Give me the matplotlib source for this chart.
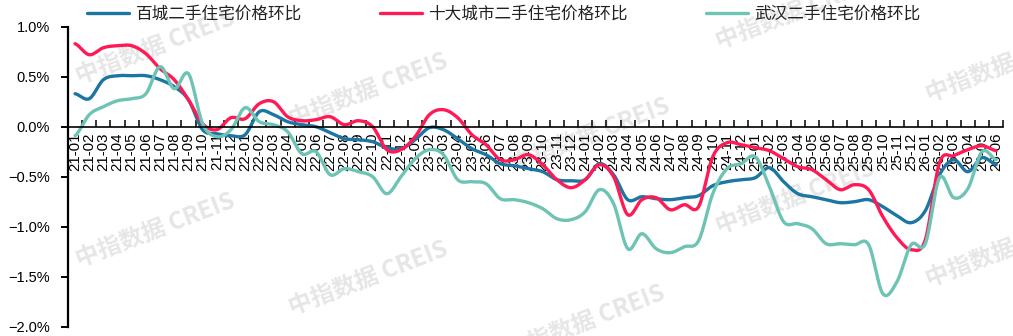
import numpy as np
import matplotlib.pyplot as plt
from matplotlib.ticker import FixedLocator, FuncFormatter

plt.rcParams['font.family'] = ['Noto Sans CJK SC', 'DejaVu Sans']

months = [f'{y}-{m:02d}' for y in range(21, 26) for m in range(1, 13)] + \
         [f'26-{m:02d}' for m in range(1, 7)]

# 百城二手住宅价格环比 (%)
bai_cheng = [0.33, 0.28, 0.47, 0.51, 0.51, 0.51, 0.47, 0.40, 0.27, -0.03, -0.07, -0.09,
             -0.08, 0.15, 0.12, 0.05, 0.02, 0.00, -0.06, -0.12, -0.13, -0.15, -0.21, -0.22,
             -0.13, -0.01, -0.03, -0.12, -0.22, -0.28, -0.37, -0.39, -0.42, -0.45, -0.53, -0.54,
             -0.53, -0.37, -0.48, -0.73, -0.70, -0.72, -0.73, -0.71, -0.69, -0.59, -0.55, -0.53,
             -0.51, -0.41, -0.55, -0.67, -0.70, -0.73, -0.76, -0.75, -0.73, -0.80, -0.89, -0.96,
             -0.84, -0.48, -0.33, -0.45, -0.31, -0.38]
# 十大城市二手住宅价格环比 (%)
shi_da = [0.83, 0.72, 0.79, 0.81, 0.81, 0.73, 0.58, 0.47, 0.27, 0.03, -0.03, 0.09,
          0.08, 0.23, 0.25, 0.10, 0.06, 0.07, 0.10, 0.02, 0.06, 0.00, -0.23, -0.23,
          -0.10, 0.12, 0.17, 0.09, -0.08, -0.18, -0.33, -0.33, -0.28, -0.38, -0.53, -0.61,
          -0.53, -0.38, -0.50, -0.88, -0.73, -0.71, -0.83, -0.78, -0.80, -0.30, -0.16, -0.18,
          -0.21, -0.24, -0.32, -0.40, -0.43, -0.53, -0.63, -0.58, -0.63, -0.90, -1.11, -1.23,
          -1.13, -0.36, -0.29, -0.23, -0.19, -0.24]
# 武汉二手住宅价格环比 (%)
wuhan = [-0.09, 0.12, 0.20, 0.26, 0.28, 0.33, 0.60, 0.38, 0.53, 0.03, -0.10, -0.03,
         0.19, 0.05, 0.02, -0.05, -0.27, -0.25, -0.48, -0.42, -0.45, -0.50, -0.67, -0.50,
         -0.32, -0.23, -0.28, -0.53, -0.55, -0.57, -0.72, -0.73, -0.76, -0.82, -0.92, -0.93,
         -0.85, -0.63, -0.77, -1.22, -1.07, -1.22, -1.26, -1.20, -1.14, -0.67, -0.42, -0.37,
         -0.30, -0.60, -0.95, -0.97, -1.02, -1.17, -1.17, -1.18, -1.18, -1.67, -1.55, -1.18,
         -1.17, -0.51, -0.71, -0.62, -0.25, -0.33]

labels = ['百城二手住宅价格环比', '十大城市二手住宅价格环比', '武汉二手住宅价格环比']
colors = ['#1b76a3', '#ff1a55', '#6ec4b4']


def smooth(vals, n=16):
    # bezier smoothing between points, like Excel's smoothed line
    v = np.asarray(vals, dtype=float)
    xs, ys = [], []
    t = np.linspace(0, 1, n)
    for i in range(len(v) - 1):
        p0 = v[i - 1] if i > 0 else v[i]
        p3 = v[i + 2] if i + 2 < len(v) else v[i + 1]
        c1 = v[i] + (v[i + 1] - p0) / 6
        c2 = v[i + 1] - (p3 - v[i]) / 6
        yy = (1 - t) ** 3 * v[i] + 3 * (1 - t) ** 2 * t * c1 + 3 * (1 - t) * t ** 2 * c2 + t ** 3 * v[i + 1]
        xs.extend(i + t)
        ys.extend(yy)
    return np.array(xs), np.array(ys)


fig = plt.figure(figsize=(10.13, 3.36), dpi=100)
ax = fig.add_axes([0.0671, 0.0277, 0.9233, 0.8928])
ax.patch.set_visible(False)

# watermarks (cut by the edges, as in the original)
marks = [(155, 47), (155, 230), (368, 90), (368, 278), (590, 135), (585, 322),
         (795, 12), (795, 197), (1005, 65), (1005, 250)]
for mx, my in marks:
    fig.text(mx / 1013, 1 - my / 336, '中指数据 CREIS', rotation=21, ha='center', va='center',
             fontsize=17, fontweight='bold', color='#e6e6e6', zorder=-5)

for vals, lab, c in zip([bai_cheng, shi_da, wuhan], labels, colors):
    sx, sy = smooth(vals)
    ax.plot(sx, sy, color=c, lw=2.4, label=lab, solid_capstyle='round')

ax.set_xlim(-0.5, 65.5)
ax.set_ylim(-2, 1)
for s in ['top', 'right']:
    ax.spines[s].set_visible(False)
ax.spines['bottom'].set_position(('data', 0))
ax.spines['bottom'].set_linewidth(1.2)
ax.spines['left'].set_linewidth(1.6)

ax.xaxis.set_major_locator(FixedLocator(np.arange(0.5, 66, 1)))
ax.xaxis.set_minor_locator(FixedLocator(np.arange(len(months))))
ax.set_xticklabels([], minor=False)
ax.set_xticklabels(months, minor=True, rotation=90, fontsize=10.8, family='Liberation Sans')
ax.tick_params(axis='x', which='major', direction='in', length=5, width=1.1)
ax.tick_params(axis='x', which='minor', length=0, pad=4)

ax.set_yticks([1.0, 0.5, 0.0, -0.5, -1.0, -1.5, -2.0])
ax.yaxis.set_major_formatter(FuncFormatter(lambda v, p: f'{v:.1f}%'.replace('-', '\u2212')))
ax.tick_params(axis='y', direction='out', length=5, width=1.4, labelsize=10.5, pad=8)
for t in ax.get_yticklabels():
    t.set_family('Liberation Sans')

fig.legend(loc='center', bbox_to_anchor=(0.4975, 0.958), ncol=3, frameon=False,
           fontsize=12, handlelength=2.5, handletextpad=0.4, columnspacing=4.7,
           borderpad=0, labelcolor='#222222')

fig.savefig('out.png', dpi=100)
